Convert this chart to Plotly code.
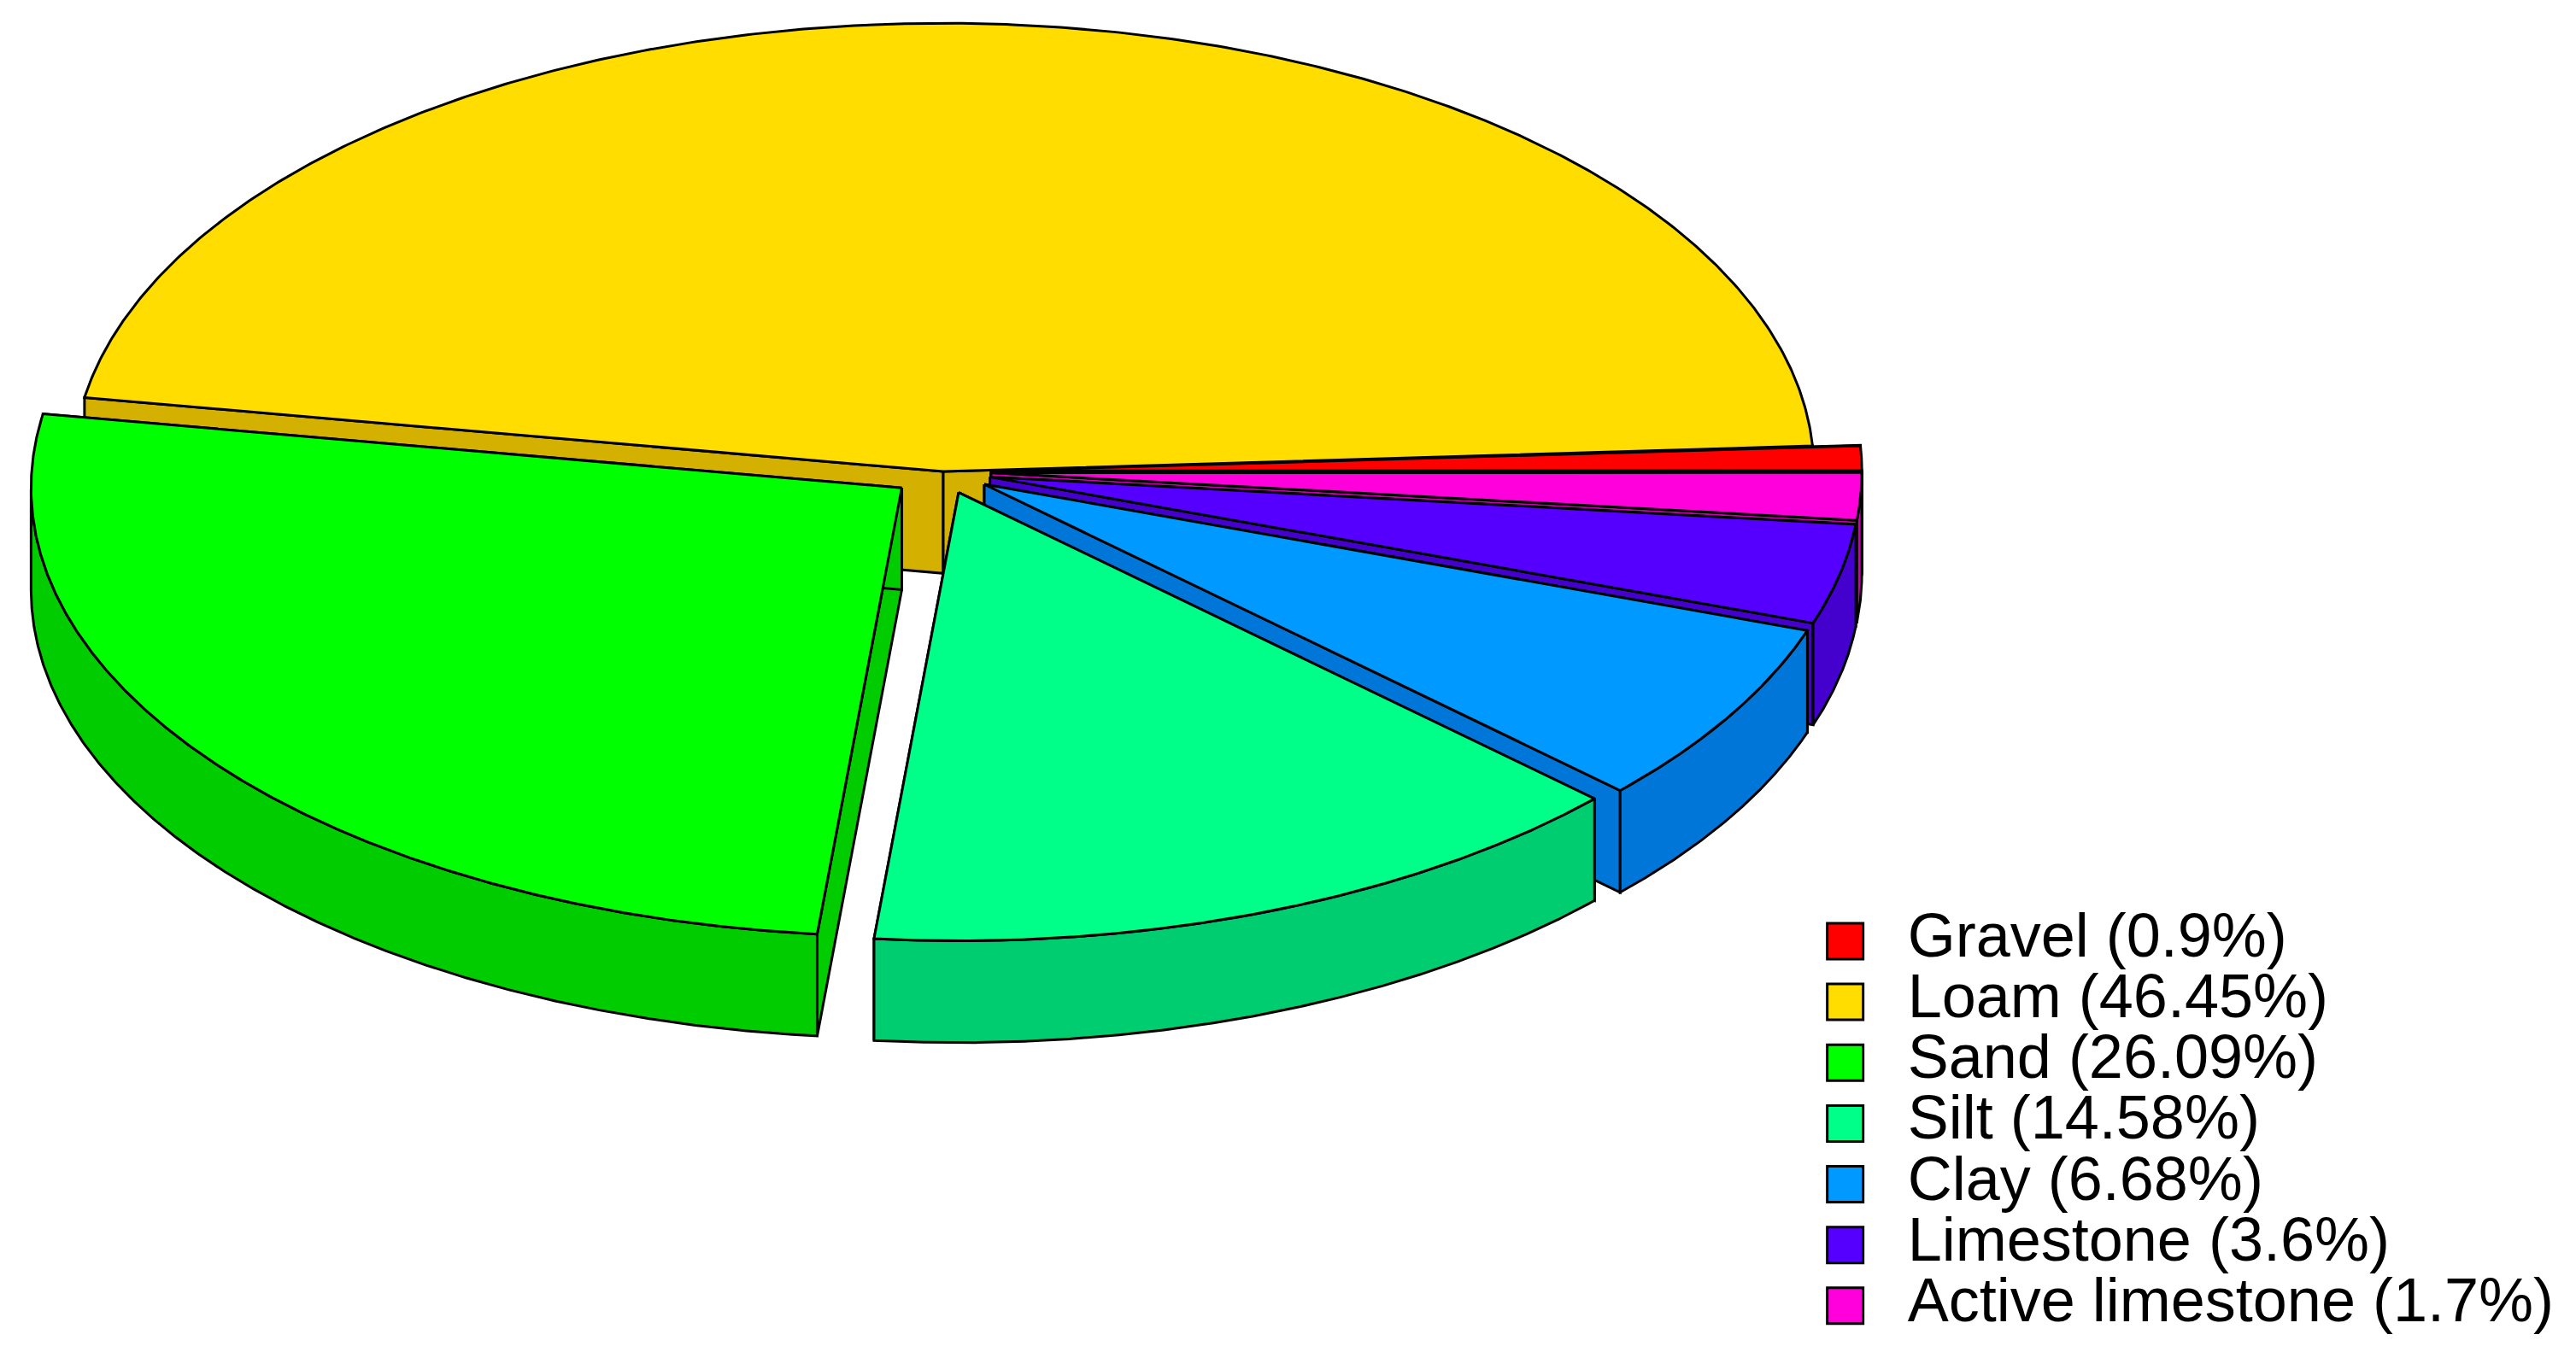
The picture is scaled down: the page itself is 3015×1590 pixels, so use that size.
import numpy as np
import plotly.graph_objects as go

labels = ["Loam", "Gravel", "Active limestone", "Limestone", "Clay", "Silt", "Sand"]
values = [46.45, 0.9, 1.7, 3.6, 6.68, 14.58, 26.09]
top_colors = ["#FFDD00", "#FF0000", "#FF00DD", "#5500FF", "#0099FF", "#00FF88", "#00FF00"]
side_colors = ["#D4B000", "#CC0000", "#CC00B0", "#4400CC", "#0077D8", "#00CC70", "#00CC00"]
pulls = [0.0, 0.055, 0.055, 0.055, 0.055, 0.05, 0.06]
legend_order = ["Gravel", "Loam", "Sand", "Silt", "Clay", "Limestone", "Active limestone"]

W, H = 1568, 827
cx, cy, rx, ry, depth = 570, 283, 530, 273, 62
start = 170.5
LW = 3

def pt(a, ox, oy, dz=0):
    r = np.radians(a)
    return cx + ox + rx * np.cos(r), cy + oy - ry * np.sin(r) + dz

fig = go.Figure()
total = sum(values)
slices = []
a = start
for i, v in enumerate(values):
    span = v / total * 360
    a1, a2 = a, a - span
    mid = (a1 + a2) / 2
    ox = pulls[i] * rx * np.cos(np.radians(mid))
    oy = -pulls[i] * ry * np.sin(np.radians(mid))
    slices.append((i, a1, a2, mid, ox, oy))
    a = a2

slices.sort(key=lambda s: -np.sin(np.radians(s[3])))

def poly(xs, ys, color):
    fig.add_trace(go.Scatter(x=list(xs) + [xs[0]], y=list(ys) + [ys[0]], fill="toself",
                             fillcolor=color, mode="lines", line=dict(color="black", width=LW),
                             showlegend=False, hoverinfo="skip"))

for i, a1, a2, mid, ox, oy in slices:
    c0 = (cx + ox, cy + oy)
    for ang in (a1, a2):
        e = pt(ang, ox, oy)
        poly([c0[0], e[0], e[0], c0[0]], [c0[1], e[1], e[1] + depth, c0[1] + depth], side_colors[i])
    angs = np.linspace(a1, a2, 400)
    front = np.sin(np.radians(angs)) <= 1e-9
    runs, cur = [], []
    for ang, f in zip(angs, front):
        if f:
            cur.append(ang)
        elif cur:
            runs.append(cur); cur = []
    if cur:
        runs.append(cur)
    for run in runs:
        if len(run) < 2:
            continue
        tx, ty = zip(*[pt(q, ox, oy) for q in run])
        bx, by = zip(*[pt(q, ox, oy, depth) for q in run[::-1]])
        poly(list(tx) + list(bx), list(ty) + list(by), side_colors[i])
    ax_, ay_ = zip(*[pt(q, ox, oy) for q in angs])
    poly([c0[0]] + list(ax_), [c0[1]] + list(ay_), top_colors[i])

# manual legend
ly0, ldy = 569, 37
rows = list(range(len(legend_order)))
ys = [ly0 + k * ldy for k in rows]
idx = [labels.index(n) for n in legend_order]
fig.add_trace(go.Scatter(x=[1119] * len(rows), y=ys, mode="markers", showlegend=False, hoverinfo="skip",
                         marker=dict(symbol="square", size=42, color=[top_colors[i] for i in idx],
                                     line=dict(color="black", width=3))))
fig.add_trace(go.Scatter(x=[1157] * len(rows), y=ys, mode="text", showlegend=False, hoverinfo="skip",
                         text=[f"{labels[i]} ({values[i]}%)" for i in idx], textposition="middle right",
                         textfont=dict(family="Liberation Sans, Arial", size=72, color="black")))

fig.update_layout(
    width=3015, height=1590, margin=dict(l=0, r=0, t=0, b=0),
    plot_bgcolor="white", paper_bgcolor="white",
    xaxis=dict(range=[0, W], visible=False),
    yaxis=dict(range=[H, 0], visible=False),
    showlegend=False,
)
fig.write_html("out.html")
